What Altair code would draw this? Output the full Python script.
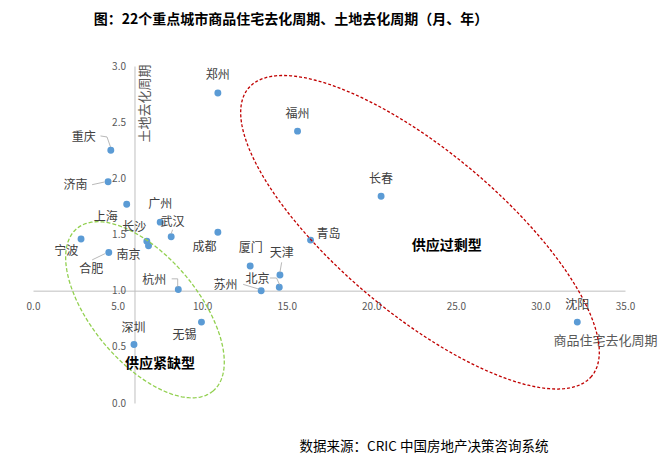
import altair as alt
import numpy as np
import pandas as pd

# ---------------- texts ----------------
TITLE = ["图：22个重点城市商品住宅去化周期、土地去化周期（月、年）"]
SOURCE = ["数据来源：CRIC 中国房地产决策咨询系统"]
X_TITLE = "商品住宅去化周期"
Y_TITLE = "土地去化周期"

# ---------------- data ----------------
cities = ["郑州", "福州", "长春", "青岛", "沈阳", "重庆", "济南", "上海", "广州", "武汉", "成都",
          "长沙", "南京", "合肥", "宁波", "厦门", "天津", "北京", "苏州", "杭州", "深圳", "无锡"]
housing_months = [10.93, 15.64, 20.58, 16.41, 32.18, 4.60, 4.44, 5.54, 7.52, 8.17, 10.93,
                  6.73, 6.83, 4.48, 2.84, 12.84, 14.60, 14.56, 13.49, 8.59, 5.97, 9.96]
land_years = [2.76, 2.42, 1.84, 1.45, 0.72, 2.25, 1.97, 1.77, 1.61, 1.48, 1.52,
              1.44, 1.40, 1.34, 1.46, 1.22, 1.14, 1.03, 1.00, 1.01, 0.52, 0.72]

x_ticks = [0, 5, 10, 15, 20, 25, 30, 35]
y_ticks = [0.0, 0.5, 1.0, 1.5, 2.0, 2.5, 3.0]

region_names = ["供应过剩型", "供应紧缺型"]
region_x = [24.46, 7.51]
region_y = [1.40, 0.35]

# ---------------- layout (pixels) ----------------
W, H = 592, 337
PXX = W / 35.0
PXY = H / 3.0
Y_CROSS_X = 6.0   # y axis crosses x at 6
X_CROSS_Y = 1.0   # x axis crosses y at 1

# label centre offset from its point, in px (dx right, dy down)
LABEL_OFFSET = {
    "郑州": (0, -18), "福州": (0, -17), "长春": (0, -17.5), "青岛": (18, -6.4), "沈阳": (0, -17),
    "重庆": (-27, -13), "济南": (-32.7, 3.3), "上海": (-21, 12.7), "广州": (0, -17.7),
    "武汉": (1.4, -14.4), "成都": (-13.4, 15), "长沙": (-12.7, -14), "南京": (-20, 9.3),
    "合肥": (-17.6, 16.7), "宁波": (-14.7, 12.4), "厦门": (0.6, -18), "天津": (1.7, -21.6),
    "北京": (-21.7, -8.7), "苏州": (-35.7, -5.3), "杭州": (-24, -10), "深圳": (-0.6, -16.7),
    "无锡": (-17, 13),
}
# leader line polylines, px offsets from the point
LEADERS = {
    "重庆": [(-10.3, -14.3), (-3.8, -13.3), (-0.3, -3.3)],
    "济南": [(-16, 3), (-3.7, 0.3)],
    "合肥": [(-16.6, 7.4), (-3.8, 1.2)],
    "武汉": [(1.4, -7), (0, -3)],
    "杭州": [(-6.6, -10.7), (-0.6, -10.7), (-0.6, -2.3)],
    "北京": [(-9.4, -9.3), (-2.7, -9.3), (0.6, -2)],
    "天津": [(1.7, -12.6), (0, -2.6)],
    "苏州": [(-18, -6.3), (-1.4, -1.3)],
}
# annotation ellipses: centre in data units, radii in px, rotation in degrees (screen)
ELLIPSES = [
    dict(cx=22.88, cy=1.52, a=224, b=81, angle=40, color="#C00000", dash=[3, 2]),
    dict(cx=6.62, cy=0.83, a=106, b=53, angle=50, color="#92D050", dash=[4, 2]),
]

FONT = "Noto Sans CJK SC"

xs = alt.Scale(domain=[0, 35], nice=False, zero=False)
ys = alt.Scale(domain=[0, 3], nice=False, zero=False)

X_AXIS = alt.Axis(
    values=x_ticks, format=".1f", offset=-(X_CROSS_Y / 3.0) * H, ticks=False, grid=False,
    domainColor="#BFBFBF", domainWidth=1, labelColor="#595959", labelFontSize=10,
    labelFont=FONT, labelPadding=11, labelFlush=False, labelOverlap=False,
    title=X_TITLE, titleX=572, titleY=50, titleAlign="center", titleBaseline="middle",
    titleFontSize=13, titleFontWeight="normal", titleColor="#595959", titleFont=FONT)
Y_AXIS = alt.Axis(
    values=y_ticks, format=".1f", offset=-Y_CROSS_X * PXX, ticks=False, grid=False,
    domainColor="#BFBFBF", domainWidth=1, labelColor="#595959", labelFontSize=10,
    labelFont=FONT, labelPadding=9, labelFlush=False, labelOverlap=False,
    title=Y_TITLE, titleX=10.5, titleY=37, titleAngle=270, titleAlign="center",
    titleBaseline="middle", titleFontSize=13, titleFontWeight="normal",
    titleColor="#595959", titleFont=FONT)


def X(field):
    return alt.X(field, scale=xs, axis=X_AXIS, title=X_TITLE)


def Y(field):
    return alt.Y(field, scale=ys, axis=Y_AXIS, title=Y_TITLE)


df = pd.DataFrame({"city": cities, "x": housing_months, "y": land_years})
df["lx"] = [x + LABEL_OFFSET[c][0] / PXX for c, x in zip(cities, housing_months)]
df["ly"] = [y - LABEL_OFFSET[c][1] / PXY for c, y in zip(cities, land_years)]

rows = []
for c, pts in LEADERS.items():
    i = cities.index(c)
    for k, (dx, dy) in enumerate(pts):
        rows.append({"city": c, "i": k, "x": housing_months[i] + dx / PXX,
                     "y": land_years[i] - dy / PXY})
lead_df = pd.DataFrame(rows)

points = alt.Chart(df).mark_circle(size=48, color="#5B9BD5", opacity=1).encode(
    x=X("x:Q"), y=Y("y:Q"))

layers = []
for n, e in enumerate(ELLIPSES):
    t = np.linspace(0, 2 * np.pi, 241)
    th = np.deg2rad(e["angle"])
    px = e["a"] * np.cos(t) * np.cos(th) - e["b"] * np.sin(t) * np.sin(th)
    py = e["a"] * np.cos(t) * np.sin(th) + e["b"] * np.sin(t) * np.cos(th)
    edf = pd.DataFrame({"i": np.arange(len(t)), "x": e["cx"] + px / PXX, "y": e["cy"] - py / PXY})
    layers.append(
        alt.Chart(edf).mark_line(color=e["color"], strokeWidth=1.3, strokeDash=e["dash"], clip=False)
        .encode(x=X("x:Q"), y=Y("y:Q"), order="i:Q")
    )

leaders = alt.Chart(lead_df).mark_line(color="#A6A6A6", strokeWidth=0.8).encode(
    x=X("x:Q"), y=Y("y:Q"), detail="city:N", order="i:Q")

labels = alt.Chart(df).mark_text(font=FONT, fontSize=12, color="#404040",
                                 align="center", baseline="middle").encode(
    x=X("lx:Q"), y=Y("ly:Q"), text="city:N")

regions = alt.Chart(pd.DataFrame({"t": region_names, "x": region_x, "y": region_y})).mark_text(
    font=FONT, fontSize=14, fontWeight="bold", color="#000000", align="center", baseline="middle"
).encode(x=X("x:Q"), y=Y("y:Q"), text="t:N")

title = alt.Chart(pd.DataFrame({"t": TITLE})).mark_text(
    font=FONT, fontSize=14, fontWeight="bold", color="#000000", align="center", baseline="middle"
).encode(x=alt.value(258), y=alt.value(-46), text="t:N")

source = alt.Chart(pd.DataFrame({"t": SOURCE})).mark_text(
    font=FONT, fontSize=13.5, color="#000000", align="center", baseline="middle"
).encode(x=alt.value(391), y=alt.value(381), text="t:N")

chart = alt.layer(points, *layers, leaders, labels, regions, title, source).properties(
    width=W, height=H, autosize="none", background="#FFFFFF",
    padding={"left": 25, "top": 58, "right": 37, "bottom": 52},
).configure_view(stroke=None)

chart.save("out.html", embed_options={"renderer": "svg", "actions": False})
